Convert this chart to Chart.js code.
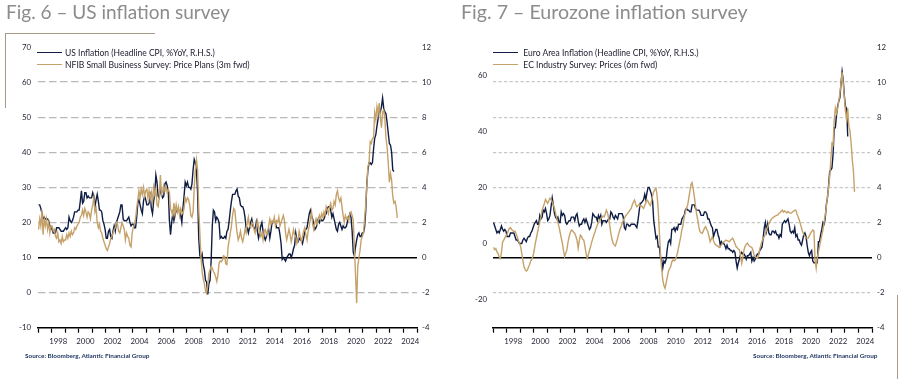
<!DOCTYPE html>
<html>
<head>
<meta charset="utf-8">
<script src="https://cdn.jsdelivr.net/npm/chart.js@4.4.0/dist/chart.umd.min.js"></script>
<style>
  html, body { margin: 0; padding: 0; background: #ffffff; }
  body { width: 906px; height: 379px; position: relative; overflow: hidden; font-family: Lato, "Open Sans", sans-serif; }
  .abs { position: absolute; white-space: nowrap; line-height: normal; }
  .title { color: #8c8c8c; font-weight: 400; }
  .leg { color: #1b1b2e; font-weight: 400; }
  .src { color: #203864; font-weight: 700; }
  .swatch { position: absolute; height: 0; }
  .deco { position: absolute; background: #a89a86; }
  canvas { position: absolute; top: 0; }
</style>
</head>
<body>
<canvas id="c1" width="453" height="379" style="left:0"></canvas>
<canvas id="c2" width="453" height="379" style="left:453px"></canvas>

<div class="deco" style="left:5px;top:33px;width:150px;height:1.3px"></div>
<div class="deco" style="left:5px;top:33px;width:1.3px;height:75px"></div>
<div class="deco" style="left:897px;top:295px;width:1.3px;height:84px"></div>

<div class="abs title" id="t1">Fig. 6 – US inflation survey</div>
<div class="abs title" id="t2">Fig. 7 – Eurozone inflation survey</div>

<div class="swatch" id="s1a"></div><div class="abs leg" id="l1a">US Inflation (Headline CPI, %YoY, R.H.S.)</div>
<div class="swatch" id="s1b"></div><div class="abs leg" id="l1b">NFIB Small Business Survey: Price Plans (3m fwd)</div>
<div class="swatch" id="s2a"></div><div class="abs leg" id="l2a">Euro Area Inflation (Headline CPI, %YoY, R.H.S.)</div>
<div class="swatch" id="s2b"></div><div class="abs leg" id="l2b">EC Industry Survey: Prices (6m fwd)</div>

<div class="abs src" id="src1">Source: Bloomberg, Atlantic Financial Group</div>
<div class="abs src" id="src2">Source: Bloomberg, Atlantic Financial Group</div>

<script>
// ---------------- DATA (monthly, first value = Jan 1997) ----------------
const startYear = 1997;

const usCpi = [
3.0,3.0,2.8,2.5,2.2,2.3,2.2,2.2,2.2,2.1,1.8,1.7,
1.6,1.4,1.4,1.4,1.7,1.7,1.7,1.6,1.5,1.5,1.5,1.6,
1.7,1.6,1.7,2.3,2.1,2.0,2.1,2.3,2.6,2.6,2.6,2.7,
2.7,3.2,3.8,3.1,3.2,3.7,3.7,3.4,3.5,3.4,3.4,3.4,
3.7,3.5,2.9,3.3,3.6,3.2,2.7,2.7,2.6,2.1,1.9,1.6,
1.1,1.1,1.5,1.6,1.2,1.1,1.5,1.8,1.5,2.0,2.2,2.4,
2.6,3.0,3.0,2.2,2.1,2.1,2.1,2.2,2.3,2.0,1.8,1.9,
1.9,1.7,1.7,2.3,3.1,3.3,3.0,2.7,2.5,3.2,3.5,3.3,
3.0,3.0,3.1,3.5,2.8,2.5,3.2,3.6,4.7,4.3,3.5,3.4,
4.0,3.6,3.4,3.5,4.2,4.3,4.1,3.8,2.1,1.3,2.0,2.5,
2.1,2.4,2.8,2.6,2.7,2.7,2.4,2.0,2.8,3.5,4.3,4.1,
4.3,4.0,4.0,3.9,4.2,5.0,5.6,5.4,4.9,3.7,1.1,0.1,
0.0,0.2,-0.4,-0.7,-1.3,-1.4,-2.1,-1.5,-1.3,-0.2,1.8,2.7,
2.6,2.1,2.3,2.2,2.0,1.1,1.2,1.1,1.1,1.2,1.1,1.5,
1.6,2.1,2.7,3.2,3.6,3.6,3.6,3.8,3.9,3.5,3.4,3.0,
2.9,2.9,2.7,2.3,1.7,1.7,1.4,1.7,2.0,2.2,1.8,1.7,
1.6,2.0,1.5,1.1,1.4,1.8,2.0,1.5,1.2,1.0,1.2,1.5,
1.6,1.1,1.5,2.0,2.1,2.1,2.0,1.7,1.7,1.7,1.3,0.8,
-0.1,0.0,-0.1,-0.2,0.0,0.1,0.2,0.2,0.0,0.2,0.5,0.7,
1.4,1.0,0.9,1.1,1.0,1.0,0.8,1.1,1.5,1.6,1.7,2.1,
2.5,2.7,2.4,2.2,1.9,1.6,1.7,1.9,2.2,2.0,2.2,2.1,
2.1,2.2,2.4,2.5,2.8,2.9,2.9,2.7,2.3,2.5,2.2,1.9,
1.6,1.5,1.9,2.0,1.8,1.6,1.8,1.7,1.7,1.8,2.1,2.3,
2.5,2.3,1.5,0.3,0.1,0.6,1.0,1.3,1.4,1.2,1.2,1.4,
1.4,1.7,2.6,4.2,5.0,5.4,5.4,5.3,5.4,6.2,6.8,7.0,
7.5,7.9,8.5,8.3,8.6,9.1,8.5,8.3,8.2,7.7,7.1,6.5,
6.4,6.0,5.0,4.9
];

const nfibPricePlans = [
18,21,19,23.5,16.5,21,19,21,18,20,17,19,
19,17.5,18,16,15.5,17,14.5,15,14,16,14.5,15,
15,16.5,15.5,17,16,17.5,16.5,17,18.5,18,19,19.5,
20,21.5,22,23.5,22,24,23,21.5,23,22.5,21,23.5,
25,27,23,24,20,18.5,19.5,17.5,17,15.5,14.5,13.5,
12.5,12,13,14,15.5,16,17,18,18.5,20,19.5,17.5,
17,18.5,20,19,18,15,17,16,15.5,13.5,13,17,
18.5,19.5,21,24,26.5,29,27,29.5,28,30,27.5,29,
29.5,27,29,26.5,28.5,26,30,28,29.5,25,24.5,27,
33.5,28,29,30.5,29,30,28.5,29.5,28.5,24,23,22,
25.5,22.5,25,23,24.5,22,24,23,22.5,24,27,26,
27,26.5,25,22,21.5,23,30,35,37.9,35,24,17,
10,6,4,2.5,0.5,-0.2,2,5.5,6.5,7.5,7,6,
5.5,4.5,3.2,5,8.4,9,8.8,9.3,10.5,10.3,8.2,8,
13,15,17,19,22,24,23.5,20,17,15,16,17.5,
15.5,14.5,16,18,17,20,21.5,19,18.5,20,19.5,18,
17,18.5,20.5,19,17,16,17,15,17.5,18,16.5,17,
19,21,19.5,20.5,20,21.5,19,20.5,20,21.5,19,20,
21,22,20.5,17,15,16.5,18,16.5,14.5,16,18,16.5,
16,14,15,17.5,16,14.5,16,17.5,18.5,16.5,15,17.5,
19,21,23,19.5,18,20,21,19.5,20.5,22,21,22.5,
21.5,23,22,24.5,23.5,22.5,24.5,25.5,23.5,24,26,25,
28,29,27,26,27,24.5,22,20,22,21,21.5,20.5,
22.5,23,22,20.5,13,5,-3,7.5,10,12,15,16,
17,20.8,25,30.3,36,37,43,42.5,44,44.1,51.3,49.3,
53,51,54,50,47,51.5,52,49.5,44,41.5,37,31.5,
34,32,27.5,25.5,26,24.5,21.3
];

const euroCpi = [
2.0,1.8,1.6,1.4,1.5,1.4,1.6,1.8,1.6,1.5,1.6,1.5,
1.2,1.2,1.2,1.4,1.4,1.4,1.4,1.2,1.0,1.0,0.9,0.8,
0.8,0.8,1.0,1.1,1.0,0.9,1.1,1.2,1.2,1.4,1.5,1.7,
1.9,2.0,2.1,1.9,1.9,2.4,2.2,2.3,2.7,2.6,2.8,2.5,
2.1,2.2,2.4,2.9,3.4,3.0,2.5,2.3,2.2,2.3,2.0,2.0,
2.6,2.4,2.5,2.4,2.0,1.9,2.0,2.1,2.1,2.3,2.3,2.3,
2.1,2.4,2.5,2.1,1.8,1.9,1.9,2.1,2.2,2.0,2.2,2.0,
1.8,1.6,1.7,2.0,2.5,2.4,2.3,2.3,2.1,2.4,2.2,2.4,
1.9,2.1,2.1,2.1,2.0,2.1,2.2,2.2,2.6,2.5,2.3,2.2,
2.4,2.3,2.2,2.5,2.5,2.5,2.5,2.3,1.7,1.6,1.9,1.9,
1.8,1.8,1.9,1.9,1.9,1.9,1.8,1.7,2.1,2.6,3.1,3.1,
3.2,3.3,3.6,3.3,3.7,4.0,4.0,3.8,3.6,3.2,2.1,1.6,
1.1,1.2,0.6,0.6,0.0,-0.1,-0.6,-0.2,-0.3,-0.1,0.5,0.9,
1.0,0.8,1.6,1.6,1.7,1.5,1.7,1.6,1.9,1.9,1.9,2.2,
2.3,2.4,2.7,2.8,2.7,2.7,2.6,2.6,3.0,3.0,3.0,2.8,
2.7,2.7,2.7,2.6,2.4,2.4,2.4,2.6,2.6,2.5,2.2,2.2,
2.0,1.8,1.7,1.2,1.4,1.6,1.6,1.3,1.1,0.7,0.9,0.8,
0.8,0.7,0.5,0.7,0.5,0.5,0.4,0.4,0.3,0.4,0.3,-0.2,
-0.6,-0.3,-0.1,0.2,0.3,0.2,0.2,0.1,-0.1,0.1,0.1,0.2,
0.3,-0.2,0.0,-0.2,-0.1,0.1,0.2,0.2,0.4,0.5,0.6,1.1,
1.7,2.0,1.5,1.9,1.4,1.3,1.3,1.5,1.5,1.4,1.5,1.3,
1.3,1.1,1.3,1.2,1.9,2.0,2.1,2.0,2.1,2.2,1.9,1.5,
1.4,1.5,1.4,1.7,1.2,1.3,1.0,1.0,0.8,0.7,1.0,1.3,
1.4,1.2,0.7,0.3,0.1,0.3,0.4,-0.2,-0.3,-0.3,-0.3,-0.3,
0.9,0.9,1.3,1.6,2.0,1.9,2.2,3.0,3.4,4.1,4.9,5.0,
5.1,5.9,7.4,7.4,8.1,8.6,8.9,9.1,9.9,10.6,10.1,9.2,
8.6,8.5,6.9
];

const ecIndustryPrices = [
-1.4,-2.2,-1.8,-3.0,-3.6,-4.8,-5.3,-3.2,0.5,1.2,2.0,2.8,
3.2,4.5,5.4,5.6,5.0,4.6,4.2,4.4,3.5,2.4,1.0,0.0,
-1.1,-3.5,-6.0,-8.3,-9.2,-9.8,-9.5,-8.3,-7.5,-6.2,-5.5,-4.5,
-2.5,0.0,2.0,4.0,6.0,7.5,9.5,11.9,13.0,14.2,15.7,15.0,
14.3,15.2,16.1,15.5,14.8,13.7,12.5,10.8,9.0,7.5,6.0,4.0,
2.0,0.1,-2.5,-4.7,-3.5,-2.3,0.5,2.4,3.8,4.8,4.5,4.0,
3.6,2.5,1.2,-1.7,1.0,3.0,2.5,1.5,1.2,-1.0,-3.5,-5.3,
-4.0,-2.5,-1.1,0.5,1.8,3.0,4.2,5.5,6.6,7.5,8.3,9.0,
9.2,9.8,9.5,10.5,11.9,11.0,9.0,6.5,3.6,1.5,0.0,-0.5,
-0.9,0.5,1.9,3.5,5.0,6.0,7.2,8.2,9.0,9.8,10.3,10.8,
11.3,12.0,12.5,13.8,14.8,15.5,14.0,13.1,13.5,14.0,13.2,13.5,
13.0,12.5,13.5,14.5,15.5,15.0,14.0,13.5,15.0,17.0,18.5,19.2,
19.7,17.0,11.9,4.0,-3.5,-9.0,-13.0,-15.0,-16.0,-14.0,-12.0,-10.0,
-9.0,-8.3,-6.5,-5.9,-6.2,-5.9,-4.8,-3.5,-1.5,0.6,2.5,5.0,
6.5,9.5,11.0,12.5,13.5,16.0,18.5,21.0,21.7,19.5,16.7,13.5,
10.5,8.4,6.0,4.2,3.8,3.6,4.5,5.5,6.0,5.0,4.2,2.5,
0.6,1.5,2.4,1.0,0.0,-0.5,-0.8,-1.0,-1.4,-1.0,-0.5,0.1,
0.5,0.8,1.2,1.0,0.8,0.6,1.2,1.5,1.9,1.0,0.0,-1.1,
-1.5,-2.0,-2.3,-4.5,-7.1,-5.0,-2.3,-1.0,-0.3,0.1,-0.5,-1.0,
-1.2,-1.4,-2.5,-4.1,-4.8,-5.0,-5.3,-4.0,-2.0,-0.5,0.8,1.8,
2.4,3.5,5.0,6.0,7.0,7.8,8.5,9.0,9.3,9.6,9.8,10.0,
10.2,10.8,11.0,11.5,11.9,11.2,11.6,11.3,10.9,11.4,11.0,10.8,
10.8,11.3,11.5,11.9,11.9,10.5,9.5,8.4,7.0,5.5,4.2,3.2,
2.5,2.0,1.9,1.9,2.8,3.6,4.2,4.8,4.5,-5.9,-8.8,-5.0,
-3.0,-1.1,1.0,3.0,4.8,7.5,10.0,13.1,16.5,20.0,23.8,30.0,
35.7,35.1,44.0,48.2,46.4,48.0,50.5,53.5,57.0,61.0,57.0,52.0,
47.0,44.0,48.2,41.6,40.0,35.7,30.0,26.0,18.4
];

// axis ticks and labels
const yearLabels = ['1998','2000','2002','2004','2006','2008','2010','2012','2014','2016','2018','2020','2022','2024'];
const usLeftTicks = [-10, 0, 10, 20, 30, 40, 50, 60, 70];
const euLeftTicks = [-20, 0, 20, 40, 60];
const rhsTicks = [-4, -2, 0, 2, 4, 6, 8, 10, 12];

const NAVY = '#0f1d44';
const GOLD = '#c6a26b';
const TICK_COLOR = '#262637';

// ---------------- text placement helpers ----------------
const mctx = document.createElement('canvas').getContext('2d');
function fontOf(el) {
  const cs = getComputedStyle(el);
  return { weight: cs.fontWeight, family: cs.fontFamily };
}
function place(id, x, baseline, width, alignRight) {
  const el = document.getElementById(id);
  const f = fontOf(el);
  mctx.font = `${f.weight} 100px ${f.family}`;
  const w = mctx.measureText(el.textContent).width;
  const size = 100 * width / w;
  el.style.fontSize = size + 'px';
  mctx.font = `${f.weight} ${size}px ${f.family}`;
  const m = mctx.measureText(el.textContent);
  el.style.top = (baseline - m.fontBoundingBoxAscent) + 'px';
  el.style.left = (alignRight ? x - width : x) + 'px';
}
function swatch(id, x1, x2, y, color) {
  const s = document.getElementById(id);
  s.style.left = x1 + 'px';
  s.style.width = (x2 - x1) + 'px';
  s.style.top = (y - 0.7) + 'px';
  s.style.borderTop = '1.4px solid ' + color;
}

place('t1', 6, 19, 224);
place('t2', 461, 19, 287);
place('l1a', 65, 55.7, 150);
place('l1b', 65, 68, 185);
place('l2a', 523.3, 55.7, 175.7);
place('l2b', 523.3, 68, 134.4);
place('src1', 25, 357.7, 125);
place('src2', 878, 357.7, 125, true);
swatch('s1a', 36.7, 61.7, 52.7, NAVY);
swatch('s1b', 36.7, 61.7, 65, GOLD);
swatch('s2a', 493.3, 517.7, 52.7, NAVY);
swatch('s2b', 493.3, 517.7, 65, GOLD);

// ---------------- charts ----------------
const tickYears = [];
for (let y = startYear; y <= 2025; y++) tickYears.push(y);

function toPoints(arr) {
  return arr.map((v, i) => ({ x: startYear + (i + 0.5) / 12, y: v }));
}
function setTicks(values) {
  return (scale) => { scale.ticks = values.map(v => ({ value: v })); };
}
const tickFont = { family: 'Lato', size: 7.8 };

function buildChart(id, cfg) {
  return new Chart(document.getElementById(id), {
    type: 'line',
    data: {
      datasets: [
        { label: cfg.surveyLabel, data: toPoints(cfg.survey), yAxisID: 'yL',
          borderColor: GOLD, borderWidth: 1.4, pointRadius: 0, tension: 0, fill: false },
        { label: cfg.cpiLabel, data: toPoints(cfg.cpi), yAxisID: 'yR',
          borderColor: NAVY, borderWidth: 1.4, pointRadius: 0, tension: 0, fill: false }
      ]
    },
    options: {
      responsive: false,
      animation: false,
      events: [],
      layout: { padding: { top: 47, bottom: 31.3, left: 0, right: 0 } },
      plugins: { legend: { display: false }, tooltip: { enabled: false }, title: { display: false } },
      scales: {
        x: {
          type: 'linear', min: 1997, max: 2025,
          afterBuildTicks: setTicks(tickYears),
          afterFit: s => { s.height = 20; },
          ticks: {
            autoSkip: false, maxRotation: 0, minRotation: 0,
            callback: v => yearLabels.includes(String(v)) ? String(v) : '',
            labelOffset: 6.77, padding: 4, color: TICK_COLOR, font: tickFont
          },
          grid: { drawOnChartArea: false, drawTicks: true, tickLength: 5, tickColor: '#000', tickWidth: 1.2 },
          border: { display: true, color: '#000', width: 1.5 }
        },
        yL: {
          position: 'left', min: cfg.leftMin, max: cfg.leftMax,
          afterBuildTicks: setTicks(cfg.leftTicks),
          afterFit: s => { s.width = cfg.leftWidth; },
          ticks: { padding: cfg.leftPad, color: TICK_COLOR, font: tickFont },
          grid: { display: false, drawTicks: false },
          border: { display: false }
        },
        yR: {
          position: 'right', min: -4, max: 12, weight: 1,
          afterBuildTicks: setTicks(rhsTicks),
          afterFit: s => { s.width = cfg.rightWidth; },
          ticks: { padding: 5, color: TICK_COLOR, font: tickFont },
          grid: { drawTicks: false, lineWidth: 1.5,
                  color: c => (c.tick && c.tick.value === 0) ? '#000000' : 'rgba(0,0,0,0)' },
          border: { display: false }
        },
        yG: {
          position: 'right', min: -4, max: 12, weight: 2,
          afterBuildTicks: setTicks(rhsTicks),
          afterFit: s => { s.width = 0; },
          ticks: { display: false },
          grid: { drawTicks: false, lineWidth: cfg.gridWidth,
                  color: c => (c.tick && (c.tick.value === 0 || c.tick.value === 12 || c.tick.value === -4)) ? 'rgba(0,0,0,0)' : cfg.gridColor },
          border: { display: false, dash: cfg.gridDash }
        }
      }
    }
  });
}

buildChart('c1', {
  cpi: usCpi, survey: nfibPricePlans,
  cpiLabel: 'US Inflation (Headline CPI, %YoY, R.H.S.)',
  surveyLabel: 'NFIB Small Business Survey: Price Plans (3m fwd)',
  leftMin: -10, leftMax: 70, leftTicks: usLeftTicks, leftWidth: 38, leftPad: 7, rightWidth: 36,
  gridColor: '#b9b9b9', gridWidth: 1.3, gridDash: [7.5, 3.5]
});
buildChart('c2', {
  cpi: euroCpi, survey: ecIndustryPrices,
  cpiLabel: 'Euro Area Inflation (Headline CPI, %YoY, R.H.S.)',
  surveyLabel: 'EC Industry Survey: Prices (6m fwd)',
  leftMin: -30, leftMax: 70, leftTicks: euLeftTicks, leftWidth: 40, leftPad: 6, rightWidth: 34,
  gridColor: '#c8c8c8', gridWidth: 1.2, gridDash: [3.3, 2.2]
});
</script>
</body>
</html>
